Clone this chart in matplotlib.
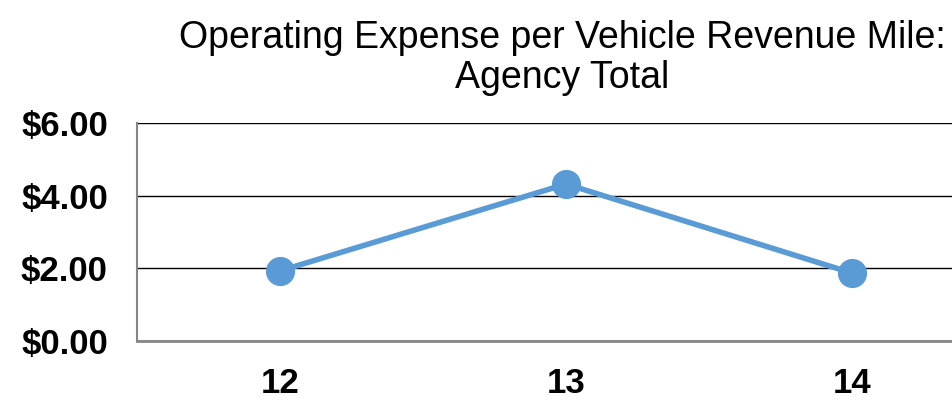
import matplotlib
matplotlib.use("Agg")
import matplotlib.pyplot as plt
from matplotlib.ticker import FuncFormatter

# data
years = ["12", "13", "14"]
expense = [1.93, 4.32, 1.87]

plt.rcParams["font.family"] = ["Liberation Sans", "DejaVu Sans"]

fig = plt.figure(figsize=(9.52, 4.01), dpi=100)
# plot area runs past the right edge, as in the reference
ax = fig.add_axes([137 / 952, 60 / 401, 858 / 952, 218 / 401])

x = range(len(years))
ax.plot(x, expense, color="#5B9BD5", linewidth=4, marker="o",
        markersize=20, zorder=3)

ax.set_xlim(-0.5, len(years) - 0.5)
ax.set_ylim(0, 6)
ax.set_yticks([0, 2, 4, 6])
ax.yaxis.set_major_formatter(FuncFormatter(lambda v, p: "${:.2f}".format(v)))
ax.set_xticks(list(x))
ax.set_xticklabels(years)

ax.grid(axis="y", color="black", linewidth=1)
ax.set_axisbelow(True)
ax.tick_params(length=0, labelsize=25)
ax.tick_params(axis="y", pad=21)
ax.tick_params(axis="x", pad=19)
for lab in ax.get_xticklabels() + ax.get_yticklabels():
    lab.set_fontweight("bold")

for s in ["top", "right"]:
    ax.spines[s].set_visible(False)
ax.spines["left"].set_color("#868686")
ax.spines["bottom"].set_color("#868686")
ax.spines["left"].set_linewidth(1.5)
ax.spines["bottom"].set_linewidth(2)

fig.text(562 / 952, 1 - 58 / 401,
         "Operating Expense per Vehicle Revenue Mile:\nAgency Total",
         ha="center", va="center", fontsize=27, linespacing=1.12)

fig.savefig("out.png", dpi=100)
